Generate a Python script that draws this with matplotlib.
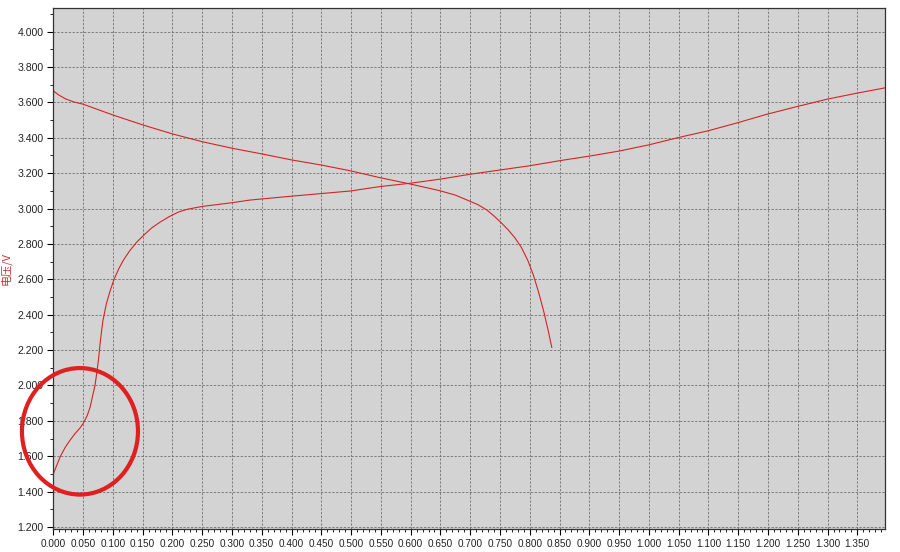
import matplotlib
matplotlib.use("Agg")
import matplotlib.pyplot as plt
from matplotlib.patches import Ellipse
from matplotlib.ticker import MultipleLocator, FormatStrFormatter

plt.rcParams['font.family'] = ['Liberation Sans', 'Noto Sans CJK SC', 'DejaVu Sans']

# Discharge curve (voltage falling)
dis_x = [0.000, 0.010, 0.022, 0.035, 0.050, 0.100, 0.150, 0.200, 0.250, 0.300,
         0.350, 0.400, 0.450, 0.498, 0.548, 0.599, 0.649, 0.675, 0.697, 0.713,
         0.728, 0.740, 0.752, 0.764, 0.775, 0.786, 0.797, 0.806, 0.815, 0.823,
         0.831, 0.837]
dis_y = [3.665, 3.640, 3.618, 3.602, 3.590, 3.529, 3.473, 3.422, 3.378, 3.341,
         3.309, 3.275, 3.246, 3.214, 3.175, 3.139, 3.101, 3.076, 3.045, 3.022,
         2.992, 2.958, 2.920, 2.879, 2.835, 2.780, 2.705, 2.625, 2.525, 2.425,
         2.310, 2.215]

# Charge curve (voltage rising)
chg_x = [0.000, 0.006, 0.012, 0.020, 0.028, 0.037, 0.045, 0.051, 0.057, 0.062,
         0.066, 0.070, 0.073, 0.076, 0.079, 0.083, 0.089, 0.095, 0.102, 0.110,
         0.118, 0.128, 0.140, 0.152, 0.165, 0.180, 0.195, 0.210, 0.225, 0.250,
         0.300, 0.330, 0.400, 0.498, 0.548, 0.599, 0.649, 0.700, 0.750, 0.800,
         0.851, 0.901, 0.950, 1.000, 1.049, 1.100, 1.150, 1.198, 1.248, 1.299,
         1.349, 1.396]
chg_y = [1.500, 1.550, 1.600, 1.650, 1.690, 1.730, 1.760, 1.790, 1.830, 1.880,
         1.940, 2.000, 2.070, 2.150, 2.250, 2.360, 2.460, 2.530, 2.600, 2.660,
         2.710, 2.760, 2.810, 2.850, 2.890, 2.925, 2.955, 2.980, 2.996, 3.012,
         3.033, 3.048, 3.070, 3.099, 3.124, 3.143, 3.166, 3.194, 3.218, 3.242,
         3.271, 3.297, 3.325, 3.360, 3.401, 3.440, 3.486, 3.533, 3.576, 3.618,
         3.652, 3.682]

# Highlight ellipse (data coords)
circle_center = (0.0448, 1.741)
circle_size = (0.1948, 0.715)

fig = plt.figure(figsize=(9, 5.52), dpi=100)
ax = fig.add_axes([0.0592, 0.0417, 0.9241, 0.9433])
ax.set_facecolor('#d3d3d3')

line_color = '#d42424'
ax.plot(dis_x, dis_y, color=line_color, lw=0.8)
ax.plot(chg_x, chg_y, color=line_color, lw=0.8)

ax.set_xlim(0, 1.3964)
ax.set_ylim(1.189, 4.132)

ax.xaxis.set_major_locator(MultipleLocator(0.05))
ax.xaxis.set_minor_locator(MultipleLocator(0.01))
ax.yaxis.set_major_locator(MultipleLocator(0.2))
ax.yaxis.set_minor_locator(MultipleLocator(0.1))
ax.xaxis.set_major_formatter(FormatStrFormatter('%.3f'))
ax.yaxis.set_major_formatter(FormatStrFormatter('%.3f'))

ax.tick_params(axis='both', which='major', direction='out', length=4, width=0.8,
               labelsize=7.2, labelcolor='#222222', pad=3)
ax.tick_params(axis='y', which='major', labelsize=7.6)
ax.tick_params(axis='both', which='minor', direction='out', length=2, width=0.6)

ax.grid(True, which='major', color='#666666', linestyle=(0, (3, 2)), lw=0.55)
ax.set_axisbelow(True)
for s in ax.spines.values():
    s.set_color('#333333')
    s.set_linewidth(0.9)

ax.set_ylabel('电压/V', color='#cc3333', fontsize=8,
              family=['Noto Sans CJK SC', 'DejaVu Sans'])
ax.yaxis.set_label_coords(-0.05, 0.5)

ell = Ellipse(circle_center, circle_size[0], circle_size[1], fill=False,
              edgecolor='#e02020', lw=3.0, clip_on=False, zorder=5)
ax.add_patch(ell)

fig.savefig('out.png', dpi=100)
